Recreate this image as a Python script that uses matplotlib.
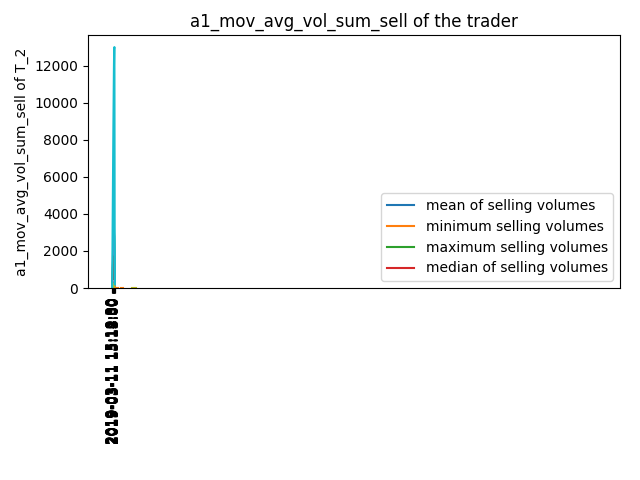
import matplotlib
matplotlib.use("Agg")
from matplotlib import pyplot as plt

# tick labels (one per time step)
times = ['2019-03-11 15:10:00', '2019-03-11 15:10:30', '2019-03-11 15:11:00',
         '2019-03-11 15:11:30', '2019-03-11 15:12:00', '2019-03-11 15:12:30',
         '2019-03-11 15:13:00', '2019-03-11 15:13:30', '2019-03-11 15:14:00',
         '2019-03-11 15:14:30', '2019-03-11 15:15:00', '2019-03-11 15:18:00']

# selling-volume statistics per time step
mean_vol   = [0, 120, 260, 410, 380, 520, 640, 700, 560, 430, 300, 150]
min_vol    = [0, 0, 40, 150, 420, 900, 1500, 1100, 600, 200, 50, 0]
max_vol    = [0, 300, 700, 1200, 1600, 2100, 2600, 3000, 2800, 2300, 1200, 400]
median_vol = [0, 80, 200, 350, 500, 700, 900, 1100, 800, 500, 250, 100]
vol_a = [0, 400, 900, 1600, 2300, 2900, 3400, 3300, 2700, 1800, 900, 200]
vol_b = [0, 300, 700, 1100, 1400, 1600, 1700, 1500, 1200, 800, 400, 100]
vol_c = [0, 60, 150, 260, 330, 380, 350, 300, 220, 150, 80, 20]
vol_d = [0, 50, 120, 200, 260, 300, 280, 240, 180, 120, 60, 10]
vol_e = [0, 40, 90, 150, 200, 230, 210, 180, 140, 90, 40, 10]
vol_f = [0, 1500, 3400, 5200, 7100, 8800, 10300, 11800, 12900, 13000, 3400, 200]

# small trailing pieces near zero
tail_min_x = [15, 22, 35, 42]
tail_min_y = [0, 0, 0, 0]
tail_e_x = [78, 92]
tail_e_y = [0, 0]

fig, ax = plt.subplots(figsize=(6.4, 4.8))
pos = list(range(len(times)))

ax.plot(pos, mean_vol, label='mean of selling volumes')
ax.plot(pos, min_vol, label='minimum selling volumes')
ax.plot(pos, max_vol, label='maximum selling volumes')
ax.plot(pos, median_vol, label='median of selling volumes')
ax.plot(pos, vol_a, color='C4')
ax.plot(pos, vol_b, color='C5')
ax.plot(pos, vol_c, color='C6')
ax.plot(pos, vol_d, color='C7')
ax.plot(pos, vol_e, color='C8')
ax.plot(pos, vol_f, color='C9')
ax.plot(tail_min_x[:2], tail_min_y[:2], color='C1')
ax.plot(tail_min_x[2:], tail_min_y[2:], color='C1')
ax.plot(tail_e_x, tail_e_y, color='C8')

ax.set_xticks(pos)
ax.set_xticklabels(times, rotation=90)
ax.set_xlim(-95, 2000)
ax.set_ylim(0, 13650)

ax.set_title('a1_mov_avg_vol_sum_sell of the trader')
ax.set_ylabel('a1_mov_avg_vol_sum_sell of T_2')
ax.legend(loc='lower right')

plt.subplots_adjust(left=0.1375, right=0.969, top=0.927, bottom=0.4)
plt.savefig('out.png', dpi=100)
